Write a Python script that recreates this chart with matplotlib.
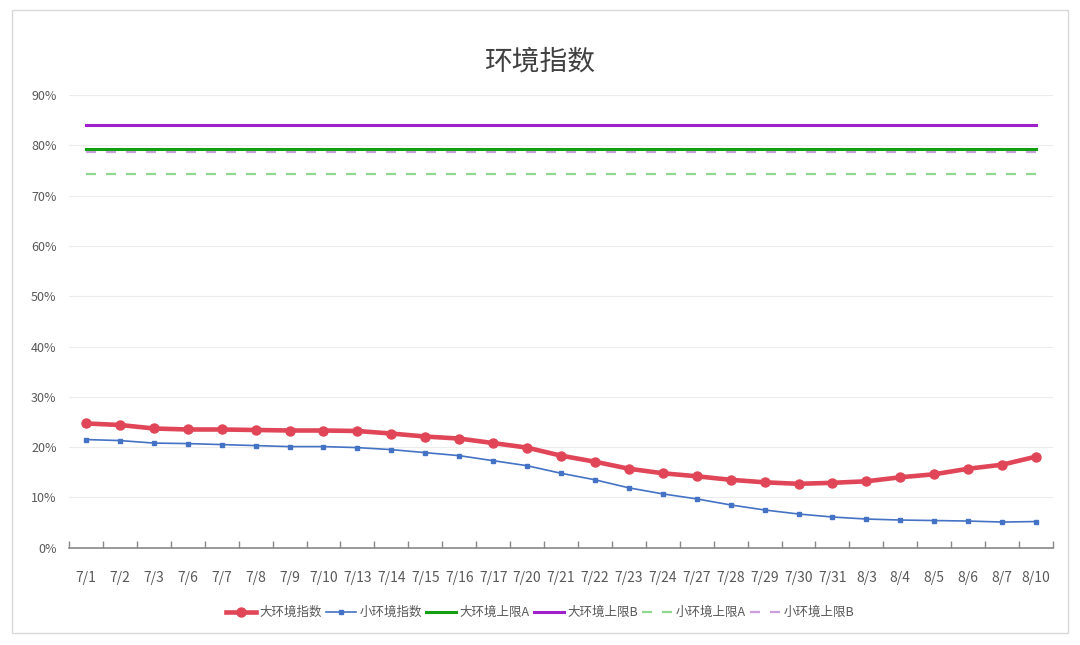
import matplotlib
matplotlib.use("Agg")
import matplotlib.pyplot as plt
from matplotlib.patches import Rectangle
from matplotlib.ticker import FuncFormatter, FixedLocator

plt.rcParams['font.family'] = ['Noto Sans CJK SC', 'DejaVu Sans']

dates = ["7/1", "7/2", "7/3", "7/6", "7/7", "7/8", "7/9", "7/10", "7/13", "7/14",
         "7/15", "7/16", "7/17", "7/20", "7/21", "7/22", "7/23", "7/24", "7/27", "7/28",
         "7/29", "7/30", "7/31", "8/3", "8/4", "8/5", "8/6", "8/7", "8/10"]

big_env = [24.7, 24.4, 23.7, 23.5, 23.5, 23.4, 23.3, 23.3, 23.2, 22.7,
           22.1, 21.7, 20.8, 19.9, 18.3, 17.1, 15.7, 14.8, 14.2, 13.5,
           13.0, 12.7, 12.9, 13.2, 14.0, 14.6, 15.7, 16.5, 18.1]
small_env = [21.5, 21.3, 20.8, 20.7, 20.5, 20.3, 20.1, 20.1, 19.9, 19.5,
             18.9, 18.3, 17.3, 16.3, 14.8, 13.5, 11.9, 10.7, 9.7, 8.5,
             7.5, 6.7, 6.1, 5.7, 5.5, 5.4, 5.3, 5.1, 5.2]
big_limit_a = 79.2
big_limit_b = 84.0
small_limit_a = 74.3
small_limit_b = 78.7

n = len(dates)
x = list(range(n))

fig = plt.figure(figsize=(10.8, 6.45), dpi=100)
fig.patch.set_facecolor("white")
fig.patches.append(Rectangle((12/1080, 1-633/645), (1068-12)/1080, (633-10)/645,
                             transform=fig.transFigure, fill=False,
                             edgecolor="#d9d9d9", linewidth=1.0))

ax = fig.add_axes([69/1080, 1-547.7/645, (1053-69)/1080, (547.7-95)/645])

ax.plot(x, [big_limit_b]*n, color="#a020cc", lw=2.2, zorder=3, label="大环境上限B")
ax.plot(x, [small_limit_b]*n, color="#c9a0dc", lw=1.6, ls=(0, (4.5, 4.5)), zorder=2,
        label="小环境上限B")
ax.plot(x, [big_limit_a]*n, color="#12a012", lw=2.2, zorder=3, label="大环境上限A")
ax.plot(x, [small_limit_a]*n, color="#90d890", lw=1.6, ls=(0, (4.5, 4.5)), zorder=2,
        label="小环境上限A")
ax.plot(x, small_env, color="#4472c4", lw=1.2, marker="s", ms=3.2, zorder=4,
        label="小环境指数")
ax.plot(x, big_env, color="#e04657", lw=3.3, marker="o", ms=6.5, zorder=5,
        label="大环境指数")

ax.set_xlim(-0.5, n - 0.5)
ax.set_ylim(0, 90)
ax.set_yticks(range(0, 91, 10))
ax.yaxis.set_major_formatter(FuncFormatter(lambda v, p: f"{int(v)}%"))
ax.set_xticks(x)
ax.set_xticklabels(dates)
ax.xaxis.set_minor_locator(FixedLocator([i - 0.5 for i in range(n + 1)]))

ax.tick_params(axis="x", which="major", length=0, pad=17, labelsize=10, colors="#595959")
ax.tick_params(axis="x", which="minor", length=5, direction="in", color="#888888", width=1)
ax.tick_params(axis="y", length=0, pad=9, labelsize=9, colors="#595959")

ax.grid(axis="y", color="#ececec", lw=0.8)
ax.set_axisbelow(True)
for s in ["top", "right", "left"]:
    ax.spines[s].set_visible(False)
ax.spines["bottom"].set_color("#888888")
ax.spines["bottom"].set_linewidth(1.2)

fig.text(0.5, 1-61.7/645, "环境指数", ha="center", va="center", fontsize=20, color="#404040")

handles, labels = ax.get_legend_handles_labels()
order = ["大环境指数", "小环境指数", "大环境上限A", "大环境上限B", "小环境上限A", "小环境上限B"]
hmap = dict(zip(labels, handles))
leg = fig.legend([hmap[k] for k in order], order, loc="center",
                 bbox_to_anchor=(0.5, 1-612.5/645), ncol=6, frameon=False,
                 fontsize=9, handlelength=2.4, handletextpad=0.3,
                 columnspacing=0.3, labelcolor="#595959")

fig.savefig("out.png", dpi=100, facecolor="white")
